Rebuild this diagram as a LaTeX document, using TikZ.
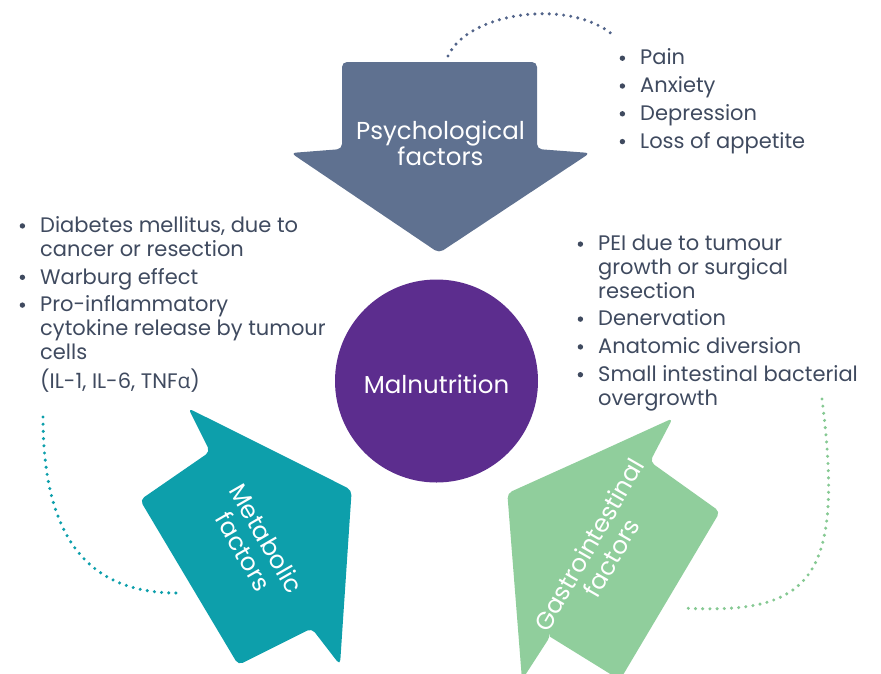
\documentclass[tikz,border=0pt]{standalone}
\usepackage{fontspec}
\setmainfont{Poppins}
\newfontfamily\greekfont{Open Sans}

\definecolor{psyGray}{HTML}{5F7190}
\definecolor{psyDots}{HTML}{52648A}
\definecolor{malPurple}{HTML}{5C2D8E}
\definecolor{metaTeal}{HTML}{0D9FAB}
\definecolor{giGreen}{HTML}{90CE9C}
\definecolor{giDots}{HTML}{86C993}
\definecolor{listText}{HTML}{3F4A5F}

% round bullet and hanging indent for the factor lists
\newcommand{\itm}{\makebox[22pt][l]{\hspace{1.5pt}\tikz[baseline=-6.7pt]\fill[listText] (0,0) circle (2.7pt);}}
\newcommand{\cont}{\hspace*{22pt}}

\begin{document}
\begin{tikzpicture}[x=1pt,y=-1pt,
  blockarrow/.style={rounded corners=5pt},
  dotline/.style={line width=3.4pt, line cap=round, dash pattern=on 0pt off 7.2pt},
  listtext/.style={anchor=base west, align=left, inner sep=0pt, text=listText,
    font=\fontsize{21}{23.6}\selectfont},
  arrowlabel/.style={text=white, align=center, inner sep=0pt,
    font=\fontsize{24.5}{26.4}\selectfont}]

\path[use as bounding box] (0,0) rectangle (881,673);

% ---- psychological factors: arrow pointing down -------------------------
\fill[psyGray, blockarrow] (440,62) -- (537,62) -- (537,149) -- (590,153)
  -- (439,253) -- (291,153) -- (342,149) -- (342,62) -- cycle;
\node[arrowlabel, anchor=base] (psy) at (440.5,165.7) {Psychological\\factors};

% ---- metabolic factors: arrow pointing up-right --------------------------
\fill[metaTeal, blockarrow] (270,449) -- (188.3,408.3) -- (210,451.7) -- (140,500)
  -- (238.3,665) -- (311.7,628.3) -- (340,665) -- (351.7,490) -- cycle;
\node[arrowlabel, rotate=-60] (meta) at (255,545) {Metabolic\\factors};

% ---- gastrointestinal factors: arrow pointing up-left --------------------
\begin{scope}
  \clip (0,0) rectangle (881,673);
  \fill[giGreen] (590,456) [rounded corners=5pt] -- (672.7,418.3) -- (650,461.7)
    -- (720,511.7) [sharp corners] -- (620,680) -- (550,636.7)
    [rounded corners=5pt] -- (550,636.7) [sharp corners] -- (522,680)
    [rounded corners=5pt] -- (507.3,493.3) -- (590,456);
\end{scope}
\node[arrowlabel, rotate=60] (gi) at (600,551) {Gastrointestinal\\factors};

% ---- centre ---------------------------------------------------------------
\node[circle, fill=malPurple, minimum size=203pt, inner sep=0pt] (mal) at (436.5,381) {};
\node[arrowlabel, anchor=base] (maltext) at (436.5,393) {Malnutrition};

% ---- dotted arcs linking each arrow to its list -------------------------
\coordinate (psyA) at (448,56);
\coordinate (psyB) at (613,35);
\draw[dotline, psyDots] (psyA) .. controls (468,12) and (570,-2) .. (psyB);

\coordinate (metaA) at (43,417);
\coordinate (metaB) at (177,593);
\draw[dotline, metaTeal] (metaA) .. controls (43,540) and (90,593) .. (metaB);

\coordinate (giA) at (822,399);
\coordinate (giB) at (683,608);
\draw[dotline, giDots] (giA) .. controls (845,580) and (810,615) .. (giB);

% ---- factor lists (anchored at the baseline of the last line) ------------
\node[listtext] (psylist) at (618,148.3) {%
  \itm Pain\\[4.2pt]
  \itm Anxiety\\[4.2pt]
  \itm Depression\\[4.2pt]
  \itm Loss of appetite};

\node[listtext] (metalist) at (18,388) {%
  \itm Diabetes mellitus, due to\\
  \cont cancer or resection\\[4.2pt]
  \itm Warburg effect\\[4.2pt]
  \itm Pro-inflammatory\\
  \cont cytokine release by tumour\\
  \cont cells\\[5.4pt]
  \cont (IL-1, IL-6, TNF{\greekfont α})};

\node[listtext] (gilist) at (576,405) {%
  \itm PEI due to tumour\\
  \cont growth or surgical\\
  \cont resection\\[4.2pt]
  \itm Denervation\\[4.2pt]
  \itm Anatomic diversion\\[4.2pt]
  \itm Small intestinal bacterial\\
  \cont overgrowth};
\end{tikzpicture}
\end{document}
